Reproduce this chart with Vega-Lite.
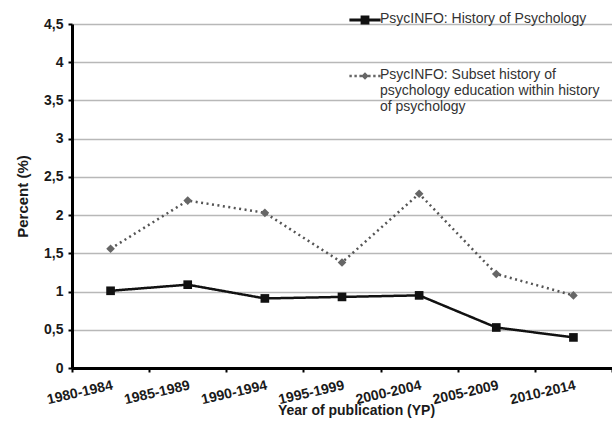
{
  "$schema": "https://vega.github.io/schema/vega-lite/v6.json",
  "width": 540,
  "height": 344,
  "autosize": {"type": "none"},
  "padding": {"left": 72, "top": 24, "right": 0, "bottom": 73},
  "background": "white",
  "config": {"view": {"stroke": null}, "font": "Liberation Sans"},
  "data": {
    "values": [
      {"period": "1980-1984", "series": "PsycINFO: History of Psychology", "value": 1.01},
      {"period": "1985-1989", "series": "PsycINFO: History of Psychology", "value": 1.09},
      {"period": "1990-1994", "series": "PsycINFO: History of Psychology", "value": 0.91},
      {"period": "1995-1999", "series": "PsycINFO: History of Psychology", "value": 0.93},
      {"period": "2000-2004", "series": "PsycINFO: History of Psychology", "value": 0.95},
      {"period": "2005-2009", "series": "PsycINFO: History of Psychology", "value": 0.53},
      {"period": "2010-2014", "series": "PsycINFO: History of Psychology", "value": 0.40},
      {"period": "1980-1984", "series": "PsycINFO: Subset history of psychology education within history of psychology", "value": 1.56},
      {"period": "1985-1989", "series": "PsycINFO: Subset history of psychology education within history of psychology", "value": 2.19},
      {"period": "1990-1994", "series": "PsycINFO: Subset history of psychology education within history of psychology", "value": 2.03},
      {"period": "1995-1999", "series": "PsycINFO: Subset history of psychology education within history of psychology", "value": 1.38},
      {"period": "2000-2004", "series": "PsycINFO: Subset history of psychology education within history of psychology", "value": 2.28},
      {"period": "2005-2009", "series": "PsycINFO: Subset history of psychology education within history of psychology", "value": 1.23},
      {"period": "2010-2014", "series": "PsycINFO: Subset history of psychology education within history of psychology", "value": 0.95}
    ]
  },
  "encoding": {
    "x": {
      "field": "period",
      "type": "nominal",
      "sort": null,
      "scale": {"type": "band", "paddingInner": 0, "paddingOuter": 0},
      "axis": {
        "title": "Year of publication (YP)",
        "titleFont": "Liberation Sans",
        "titleFontSize": 14,
        "titleFontWeight": "bold",
        "titleColor": "#1a1a1a",
        "titleX": 284,
        "titleY": 42,
        "titleBaseline": "middle",
        "tickBand": "extent",
        "labelAngle": -13,
        "labelAlign": "right",
        "labelBaseline": "top",
        "labelPadding": 6,
        "labelFontSize": 14,
        "labelFontWeight": "bold",
        "labelColor": "#1a1a1a",
        "domainColor": "#000",
        "domainWidth": 3,
        "tickColor": "#000",
        "tickWidth": 2,
        "tickSize": 4,
        "grid": false
      }
    },
    "y": {
      "field": "value",
      "type": "quantitative",
      "scale": {"domain": [0, 4.5], "nice": false},
      "axis": {
        "title": "Percent (%)",
        "titleFont": "Liberation Sans",
        "titleFontSize": 15,
        "titleFontWeight": "bold",
        "titleColor": "#1a1a1a",
        "titleX": -50,
        "titleY": 172,
        "titleBaseline": "middle",
        "values": [0, 0.5, 1, 1.5, 2, 2.5, 3, 3.5, 4, 4.5],
        "format": "~g",
        "labelExpr": "replace(datum.label, '.', ',')",
        "labelFontSize": 14,
        "labelFontWeight": "bold",
        "labelColor": "#1a1a1a",
        "labelPadding": 5,
        "domainColor": "#000",
        "domainWidth": 3,
        "tickColor": "#000",
        "tickWidth": 2,
        "tickSize": 4,
        "grid": true,
        "gridColor": "#b8b8b8",
        "gridWidth": 1.5
      }
    }
  },
  "layer": [
    {
      "mark": {"type": "line", "strokeWidth": 2.5},
      "encoding": {
        "detail": {"field": "series", "type": "nominal"},
        "color": {
          "condition": {"test": "datum.series == 'PsycINFO: History of Psychology'", "value": "#111111"},
          "value": "#555555"
        },
        "strokeDash": {
          "condition": {"test": "datum.series == 'PsycINFO: History of Psychology'", "value": [1, 0]},
          "value": [2, 3.5]
        }
      }
    },
    {
      "transform": [{"filter": "datum.series == 'PsycINFO: History of Psychology'"}],
      "mark": {"type": "point", "shape": "square", "filled": true, "opacity": 1, "size": 75},
      "encoding": {
        "color": {
          "field": "series",
          "type": "nominal",
          "scale": {"domain": ["PsycINFO: History of Psychology"], "range": ["#111111"]},
          "legend": {
            "title": null,
            "orient": "none",
            "legendX": 286,
            "legendY": -19,
            "padding": 0,
            "symbolSize": 64,
            "symbolStrokeWidth": 0,
            "symbolType": "M-3.9,1.65H3.9V2.35H-3.9Z M-1.1,0.9H1.1V3.1H-1.1Z",
            "labelOffset": 8,
            "labelFontSize": 14,
            "labelColor": "#333333",
            "labelFont": "Liberation Sans",
            "labelLimit": 0,
            "labelBaseline": "top"
          }
        }
      }
    },
    {
      "transform": [{"filter": "datum.series != 'PsycINFO: History of Psychology'"}],
      "mark": {"type": "point", "shape": "diamond", "filled": true, "opacity": 1, "size": 75},
      "encoding": {
        "color": {
          "field": "series",
          "type": "nominal",
          "scale": {"domain": ["PsycINFO: Subset history of psychology education within history of psychology"], "range": ["#666666"]},
          "legend": {
            "title": null,
            "orient": "none",
            "legendX": 286,
            "legendY": 37,
            "padding": 0,
            "symbolSize": 64,
            "symbolStrokeWidth": 0,
            "symbolType": "M-3.9,1.7H-3.3V2.3H-3.9Z M-2.65,1.7H-2.05V2.3H-2.65Z M-1.4,1.7H-0.8V2.3H-1.4Z M0,1.05L0.95,2L0,2.95L-0.95,2Z M0.8,1.7H1.4V2.3H0.8Z M2.05,1.7H2.65V2.3H2.05Z M3.3,1.7H3.9V2.3H3.3Z",
            "labelOffset": 8,
            "labelFontSize": 14,
            "labelColor": "#333333",
            "labelFont": "Liberation Sans",
            "labelLimit": 0,
            "labelBaseline": "top",
            "labelExpr": "['PsycINFO: Subset history of', 'psychology education within history', 'of psychology']"
          }
        }
      }
    }
  ],
  "resolve": {"scale": {"color": "independent"}, "legend": {"color": "independent"}}
}
